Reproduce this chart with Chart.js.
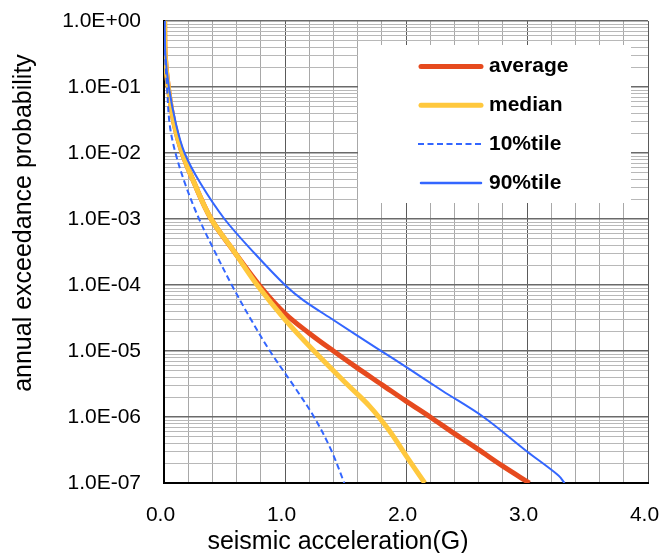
<!DOCTYPE html>
<html>
<head>
<meta charset="utf-8">
<script src="https://cdn.jsdelivr.net/npm/chart.js@4/dist/chart.umd.min.js"></script>
<style>
html,body{margin:0;padding:0;background:#fff;}
#wrap{width:660px;height:553px;position:relative;}
</style>
</head>
<body>
<div id="wrap"><canvas id="c" width="660" height="553"></canvas></div>
<script>
// ---- data ----
const seriesNames = ['average', 'median', '10%tile', '90%tile'];

const avgX = [0.005, 0.01, 0.035, 0.085, 0.15, 0.25, 0.39, 0.58, 0.8, 1.0, 1.2, 1.4, 1.6, 1.8, 2.0, 2.2, 2.4, 2.6, 2.8, 3.02];
const avgP = [1, 0.3, 0.1, 0.027, 0.01, 3.5e-3, 1e-3, 3.2e-4, 9.3e-5, 3.7e-5, 1.86e-5, 1e-5, 5.5e-6, 3.1e-6, 1.74e-6, 1e-6, 5.6e-7, 3.2e-7, 1.8e-7, 1e-7];

const medX = [0.005, 0.01, 0.035, 0.085, 0.15, 0.25, 0.39, 0.58, 0.77, 1.0, 1.24, 1.5, 1.7, 1.86, 2.0, 2.155];
const medP = [1, 0.3, 0.1, 0.027, 0.01, 3.5e-3, 1e-3, 3.2e-4, 1e-4, 3e-5, 1e-5, 3.3e-6, 1.45e-6, 6.3e-7, 2.6e-7, 1e-7];

const p10X = [0.005, 0.008, 0.025, 0.047, 0.095, 0.18, 0.29, 0.42, 0.56, 0.71, 0.875, 1.06, 1.24, 1.38, 1.49];
const p10P = [1, 0.32, 0.1, 0.027, 0.01, 3.2e-3, 1e-3, 3.2e-4, 1e-4, 3.2e-5, 1e-5, 3.2e-6, 1e-6, 3.2e-7, 1e-7];

const p90X = [0.005, 0.012, 0.04, 0.1, 0.17, 0.3, 0.5, 0.75, 1.0, 1.15, 1.4, 1.77, 2.0, 2.3, 2.64, 3.0, 3.26, 3.31];
const p90P = [1, 0.3, 0.1, 0.027, 0.01, 3.5e-3, 1e-3, 3e-4, 1e-4, 5.9e-5, 2.95e-5, 1.07e-5, 5.75e-6, 2.5e-6, 1e-6, 3e-7, 1.3e-7, 1e-7];

const xTickLabels = ['0.0', '1.0', '2.0', '3.0', '4.0'];
const yTickLabels = ['1.0E+00', '1.0E-01', '1.0E-02', '1.0E-03', '1.0E-04', '1.0E-05', '1.0E-06', '1.0E-07'];
const xTitle = 'seismic acceleration(G)';
const yTitle = 'annual exceedance probability';

// ---- build ----
function pts(xs, ys) { return xs.map((x, i) => ({ x: x, y: ys[i] })); }

const RED = '#E64A1E', YEL = '#FFC83D', BLUE = '#3366FF';
const TICKFONT = '"Liberation Sans", Arial, sans-serif';

const datasets = [
  { label: seriesNames[0], data: pts(avgX, avgP), borderColor: RED, borderWidth: 5, order: 4, legendWidth: 5 },
  { label: seriesNames[1], data: pts(medX, medP), borderColor: YEL, borderWidth: 5, order: 3, legendWidth: 5 },
  { label: seriesNames[2], data: pts(p10X, p10P), borderColor: BLUE, borderWidth: 2, borderDash: [6, 3.5], order: 2, legendWidth: 2 },
  { label: seriesNames[3], data: pts(p90X, p90P), borderColor: BLUE, borderWidth: 2, order: 1, legendWidth: 2.5 }
].map(d => Object.assign({ pointRadius: 0, fill: false, tension: 0.35, borderCapStyle: 'butt', borderJoinStyle: 'round' }, d));

const overlay = {
  id: 'overlay',
  afterDraw(chart) {
    const ctx = chart.ctx;
    ctx.save();
    // legend box
    ctx.fillStyle = '#ffffff';
    ctx.fillRect(358, 45, 273, 158);
    chart.data.datasets.forEach((ds, i) => {
      const y = 66.5 + i * 38.8;
      ctx.beginPath();
      ctx.strokeStyle = ds.borderColor;
      ctx.lineWidth = ds.legendWidth;
      ctx.setLineDash(ds.borderDash || []);
      ctx.lineCap = ds.borderDash ? 'butt' : 'round';
      ctx.moveTo(ds.borderDash ? 418 : 421, y);
      ctx.lineTo(ds.borderDash ? 483 : 481, y);
      ctx.stroke();
      ctx.setLineDash([]);
      ctx.fillStyle = '#000';
      ctx.font = 'bold 21px ' + TICKFONT;
      ctx.textAlign = 'left';
      ctx.textBaseline = 'middle';
      ctx.fillText(ds.label, 489, y);
    });
    // axis titles
    ctx.fillStyle = '#000';
    ctx.font = '25px ' + TICKFONT;
    ctx.textAlign = 'center';
    ctx.textBaseline = 'middle';
    ctx.fillText(xTitle, 338, 542);
    ctx.translate(24, 223);
    ctx.rotate(-Math.PI / 2);
    ctx.fillText(yTitle, 0, 0);
    ctx.restore();
  }
};

new Chart(document.getElementById('c'), {
  type: 'line',
  data: { datasets: datasets },
  options: {
    responsive: false,
    animation: false,
    devicePixelRatio: 1,
    layout: { padding: { top: 21, right: 12, left: 0, bottom: 0 } },
    plugins: { legend: { display: false }, tooltip: { enabled: false }, title: { display: false } },
    scales: {
      x: {
        type: 'linear', min: 0, max: 4,
        afterFit(s) { s.height = 70; s.paddingLeft = 0; s.paddingRight = 0; s.paddingTop = 0; s.paddingBottom = 0; },
        border: { display: true, color: '#000', width: 2 },
        grid: {
          drawTicks: false,
          lineWidth: 1,
          color(c) {
            const v = c.tick ? c.tick.value : 0;
            return Math.abs(v - Math.round(v)) < 1e-6 ? '#5a5a5a' : '#a8a8a8';
          }
        },
        ticks: {
          stepSize: 0.2, autoSkip: false, maxRotation: 0, padding: 20, labelOffset: -3.5,
          color: '#000', font: { family: TICKFONT, size: 21 },
          callback(v) { return Math.abs(v - Math.round(v)) < 1e-6 ? xTickLabels[Math.round(v)] : ''; }
        }
      },
      y: {
        type: 'logarithmic', min: 1e-7, max: 1,
        afterFit(s) { s.width = 164; s.paddingTop = 0; s.paddingBottom = 0; s.paddingLeft = 0; s.paddingRight = 0; },
        afterBuildTicks(s) {
          const t = [];
          for (let e = 7; e >= 1; e--) {
            for (let m = 1; m <= 9; m++) t.push({ value: m * Math.pow(10, -e), dec: m === 1, exp: e });
          }
          t.push({ value: 1, dec: true, exp: 0 });
          s.ticks = t;
        },
        border: { display: true, color: '#000', width: 2 },
        grid: {
          drawTicks: false,
          lineWidth(c) { return c.tick && c.tick.dec ? 1.6 : 1; },
          color(c) { return c.tick && c.tick.dec ? '#6a6a6a' : '#b8b8b8'; }
        },
        ticks: {
          autoSkip: false, padding: 23, color: '#000', font: { family: TICKFONT, size: 21 },
          callback(v, i, ticks) { const t = ticks[i]; return t && t.dec ? yTickLabels[t.exp] : ''; }
        }
      }
    }
  },
  plugins: [overlay]
});
</script>
</body>
</html>
